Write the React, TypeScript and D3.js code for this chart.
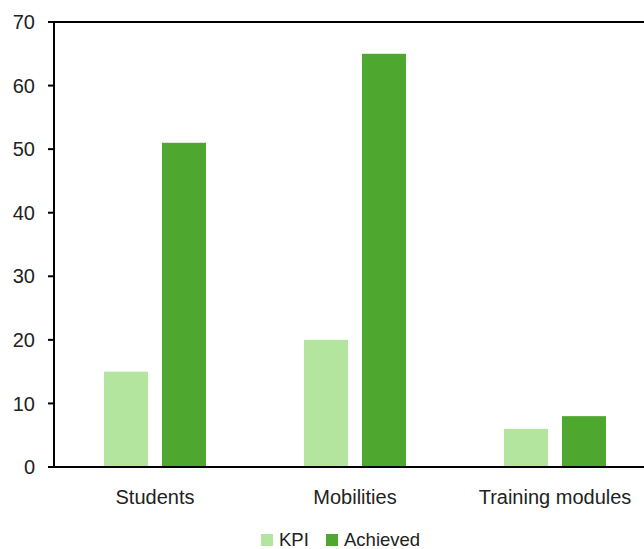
import React from "react";
import * as d3 from "d3";

const categories = ["Students", "Mobilities", "Training modules"];
const seriesNames = ["KPI", "Achieved"];
const kpiValues = [15, 20, 6];
const achievedValues = [51, 65, 8];
const yTicks = [0, 10, 20, 30, 40, 50, 60, 70];

const colors = ["#b3e59f", "#4ea72e"];
const W = 644;
const H = 549;

export default function App() {
  const left = 54;
  const top = 22;
  const bottom = 467;

  const x = d3.scaleBand<string>().domain(categories).range([55, 655]);
  const inner = d3
    .scaleBand<string>()
    .domain(seriesNames)
    .range([49, 151])
    .paddingInner(0.24);
  const y = d3.scaleLinear().domain([0, 70]).range([bottom, top]);

  const series = [kpiValues, achievedValues];
  const font = "'Liberation Sans', Arial, sans-serif";

  return (
    <svg
      width={W}
      height={H}
      style={{ position: "absolute", left: 0, top: 0, background: "#fff" }}
    >
      {series.map((vals, si) =>
        categories.map((c, ci) => {
          const bx = (x(c) ?? 0) + (inner(seriesNames[si]) ?? 0);
          return (
            <rect
              key={`${si}-${ci}`}
              x={bx}
              y={y(vals[ci])}
              width={inner.bandwidth()}
              height={bottom - y(vals[ci])}
              fill={colors[si]}
            />
          );
        })
      )}
      {/* axes and frame lines */}
      <line x1={left} x2={left} y1={top} y2={bottom} stroke="#000" strokeWidth={2} />
      <line x1={48} x2={W} y1={top} y2={top} stroke="#000" strokeWidth={2} />
      <line x1={48} x2={W} y1={bottom} y2={bottom} stroke="#000" strokeWidth={2} />
      {yTicks.map((t) => (
        <g key={t}>
          <line x1={48} x2={left} y1={y(t)} y2={y(t)} stroke="#000" strokeWidth={2} />
          <text
            x={35}
            y={y(t)}
            dy="0.36em"
            textAnchor="end"
            fontFamily={font}
            fontSize={20}
            fill="#222"
          >
            {t}
          </text>
        </g>
      ))}
      {categories.map((c) => (
        <text
          key={c}
          x={(x(c) ?? 0) + x.bandwidth() / 2}
          y={504}
          textAnchor="middle"
          fontFamily={font}
          fontSize={20}
          fill="#222"
        >
          {c}
        </text>
      ))}
      {/* legend */}
      {seriesNames.map((s, i) => {
        const lx = i === 0 ? 261 : 326;
        return (
          <g key={s}>
            <rect x={lx} y={534} width={12} height={12} fill={colors[i]} />
            <text x={lx + 18} y={546} fontFamily={font} fontSize={18.5} fill="#222">
              {s}
            </text>
          </g>
        );
      })}
    </svg>
  );
}
